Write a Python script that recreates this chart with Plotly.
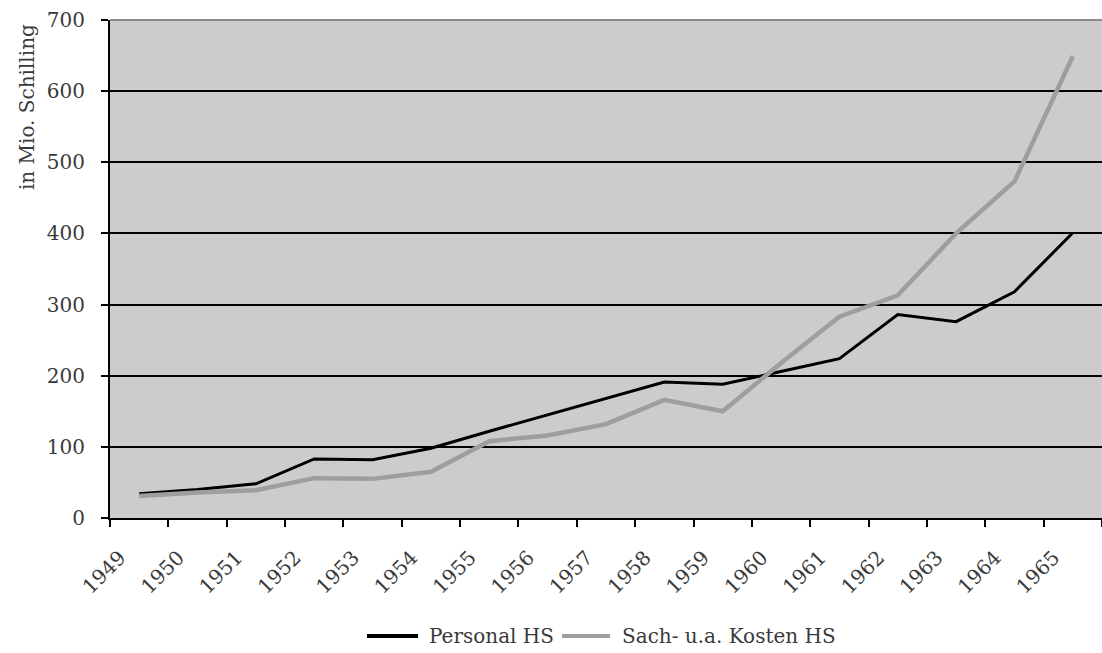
import plotly.graph_objects as go

# Hochschulausgaben 1949-1965 (in Mio. Schilling)
years = [1949, 1950, 1951, 1952, 1953, 1954, 1955, 1956, 1957,
         1958, 1959, 1960, 1961, 1962, 1963, 1964, 1965]
personal_hs = [34, 40, 48, 83, 82, 98, 122, 145, 168,
               191, 188, 206, 224, 286, 276, 318, 401]
sach_hs = [31, 36, 39, 56, 55, 65, 108, 116, 132,
           166, 150, 218, 283, 313, 400, 473, 649]

series_names = ["Personal HS", "Sach- u.a. Kosten HS"]
y_ticks = [0, 100, 200, 300, 400, 500, 600, 700]
y_title = "in Mio. Schilling"

FONT = "DejaVu Serif"
FS = 20
TXT = "#3a3a3a"
BLACK = "#000000"
GREY = "#9e9e9e"

fig = go.Figure()
fig.add_trace(go.Scatter(x=years, y=personal_hs, mode="lines", name=series_names[0],
                         line=dict(color=BLACK, width=3), showlegend=False))
fig.add_trace(go.Scatter(x=years, y=sach_hs, mode="lines", name=series_names[1],
                         line=dict(color=GREY, width=4.5), showlegend=False))

# category boundaries carry the year labels
tick_pos = [y - 0.5 for y in years] + [years[-1] + 0.5]
tick_txt = [str(y) for y in years] + [""]

fig.update_xaxes(
    range=[years[0] - 0.5, years[-1] + 0.5],
    tickmode="array", tickvals=tick_pos, ticktext=tick_txt,
    tickangle=-45, ticks="outside", ticklen=7, tickwidth=2, tickcolor=BLACK,
    showline=True, linecolor=BLACK, linewidth=2,
    showgrid=False, zeroline=False,
    tickfont=dict(family=FONT, size=FS, color=TXT),
    ticklabelstandoff=11, ticklabelshift=10,
)
fig.update_yaxes(
    range=[0, 700],
    tickmode="array", tickvals=y_ticks,
    ticks="outside", ticklen=7, tickwidth=2, tickcolor=BLACK,
    showline=True, linecolor=BLACK, linewidth=2,
    showgrid=True, gridcolor=BLACK, gridwidth=2, zeroline=False,
    tickfont=dict(family=FONT, size=FS, color=TXT),
    ticklabelstandoff=12,
)

shapes = [
    # top border of the plot area
    dict(type="line", xref="paper", yref="paper", x0=0, x1=1, y0=1, y1=1,
         line=dict(color="#8c8c8c", width=2), layer="above"),
    # legend samples
    dict(type="line", xref="paper", yref="paper", x0=0.2591, x1=0.3105,
         y0=-0.2369, y1=-0.2369, line=dict(color=BLACK, width=4)),
    dict(type="line", xref="paper", yref="paper", x0=0.4556, x1=0.504,
         y0=-0.2369, y1=-0.2369, line=dict(color=GREY, width=4)),
]

annotations = [
    dict(text=y_title, xref="paper", yref="paper", x=-0.0837, y=0.825,
         textangle=-90, showarrow=False, xanchor="center", yanchor="middle",
         font=dict(family=FONT, size=FS, color=TXT)),
    dict(text=series_names[0], xref="paper", yref="paper", x=0.3196, y=-0.2369,
         showarrow=False, xanchor="left", yanchor="middle",
         font=dict(family=FONT, size=FS, color=TXT)),
    dict(text=series_names[1], xref="paper", yref="paper", x=0.5141, y=-0.2369,
         showarrow=False, xanchor="left", yanchor="middle",
         font=dict(family=FONT, size=FS, color=TXT)),
]

fig.update_layout(
    width=1102, height=653,
    margin=dict(l=110, r=0, t=20, b=135),
    plot_bgcolor="#cccccc", paper_bgcolor="#ffffff",
    shapes=shapes, annotations=annotations,
    showlegend=False,
)

fig.write_html("out.html")
